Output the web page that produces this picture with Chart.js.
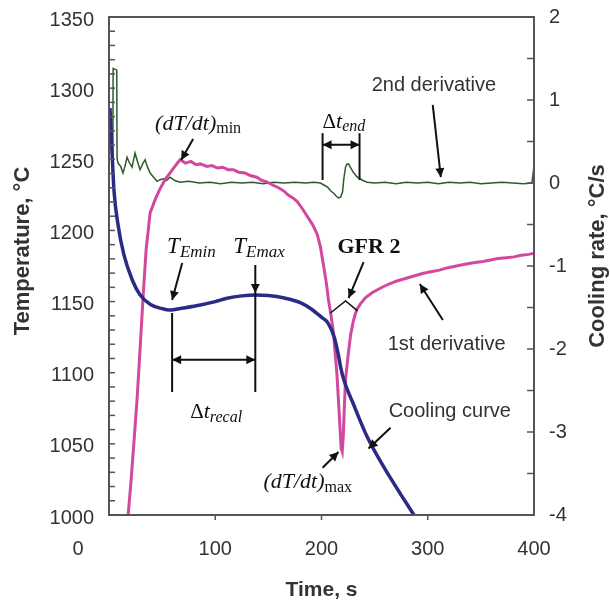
<!DOCTYPE html>
<html>
<head>
<meta charset="utf-8">
<script src="https://cdn.jsdelivr.net/npm/chart.js@4.4.1/dist/chart.umd.min.js"></script>
<style>
  body { margin: 0; background: #fff; }
  canvas { display: block; }
</style>
</head>
<body>
<canvas id="myChart" width="610" height="605"></canvas>
<script>
// cooling curve, left axis (s, degC)
const coolTime = [0.9, 2.8, 4.7, 8.5, 14, 22, 29, 39, 50, 57, 70, 86, 100, 111, 125, 138, 150, 165, 180, 190, 200, 206, 212, 216, 218, 221, 230, 243, 260, 275, 287, 292];
const coolTemp = [1286, 1256, 1228, 1204, 1183, 1165, 1155, 1148, 1145, 1144, 1145.5, 1147.6, 1150, 1152.3, 1154, 1154.6, 1154.2, 1152.5, 1149.3, 1145, 1139, 1135, 1125, 1112, 1104, 1095, 1078, 1055, 1032, 1014, 1000, 994];

// 1st derivative, right axis (degC/s)
const rate1Time = [17, 17.9, 20.8, 23.6, 26.4, 29.2, 32.1, 34.9, 38.7, 43.4, 48, 52.8, 58, 62, 65, 67, 72, 77, 82, 86, 92, 97, 102, 107, 112, 117, 122, 128, 133, 139, 144, 149, 155, 160, 165, 168, 173, 177, 182, 187, 192, 196, 199, 202, 204.5, 206.6, 209, 211.3, 214.5, 217, 218.5, 219.5, 220.5, 221.5, 222.6, 225, 227.4, 230, 233, 237, 241.5, 248, 255.7, 263, 271, 279, 287, 295, 303, 311, 319, 327, 335, 343, 350, 358, 366, 374, 381, 388, 395, 402];
const rate1Val = [-4.6, -4.02, -3.58, -3.1, -2.61, -2.01, -1.37, -0.81, -0.36, -0.2, -0.07, 0.04, 0.13, 0.2, 0.25, 0.28, 0.24, 0.26, 0.22, 0.23, 0.2, 0.21, 0.18, 0.19, 0.16, 0.16, 0.13, 0.12, 0.09, 0.07, 0.03, 0.01, -0.03, -0.06, -0.1, -0.14, -0.18, -0.22, -0.31, -0.41, -0.51, -0.62, -0.77, -1.0, -1.2, -1.41, -1.6, -1.81, -2.3, -2.85, -3.2, -3.24, -3.05, -2.7, -2.37, -2.08, -1.83, -1.66, -1.53, -1.45, -1.38, -1.32, -1.265, -1.22, -1.18, -1.15, -1.12, -1.09, -1.07, -1.05, -1.02, -1.0, -0.98, -0.96, -0.95, -0.93, -0.91, -0.9, -0.89, -0.87, -0.86, -0.84];

// 2nd derivative, right axis
const rate2Time = [3.6, 3.9, 7.3, 7.6, 8.5, 11, 13.2, 15, 17, 19, 21.7, 23, 24.5, 27, 29.2, 32, 34, 36, 38.7, 42, 45.3, 48, 51, 54, 57.5, 62, 67, 75, 85, 95, 105, 115, 125, 135, 145, 155, 165, 175, 185, 193, 199, 203, 205.7, 209, 211.3, 214, 216, 218, 219.8, 221, 222.6, 224, 225.5, 228, 230, 233, 235, 239, 243, 250, 260, 270, 280, 290, 300, 310, 320, 330, 340, 350, 360, 370, 380, 390, 398, 399.5, 400.5];
const rate2Val = [0.35, 1.38, 1.36, 0.3, 0.24, 0.2, 0.12, 0.2, 0.31, 0.25, 0.19, 0.27, 0.36, 0.25, 0.16, 0.24, 0.28, 0.2, 0.12, 0.07, 0.02, 0.04, 0.05, 0.03, 0.07, 0.03, 0.01, 0.02, 0.0, 0.01, -0.01, 0.01, 0.0, 0.01, -0.01, 0.01, 0.0, 0.01, 0.0, 0.01, 0.0, -0.03, -0.05, -0.1, -0.12, -0.16, -0.18, -0.17, -0.11, 0.05, 0.19, 0.23, 0.23, 0.17, 0.13, 0.08, 0.06, 0.03, 0.01, 0.0, 0.01, -0.01, 0.01, 0.0, 0.01, -0.01, 0.01, 0.0, 0.01, -0.01, 0.0, 0.01, 0.0, -0.01, 0.0, 0.15, 0.3];

const timeTicks = [0, 100, 200, 300, 400];
const tempTicks = [1000, 1050, 1100, 1150, 1200, 1250, 1300, 1350];
const rateTicks = [-4, -3, -2, -1, 0, 1, 2];

function pairs(xs, ys) {
  return xs.map((v, i) => ({ x: v, y: ys[i] }));
}

const SANS = '"Liberation Sans", Arial, sans-serif';
const SERIF = '"Liberation Serif", "Times New Roman", serif';

function richText(ctx, x, y, parts) {
  ctx.textAlign = 'left';
  ctx.textBaseline = 'middle';
  parts.forEach(p => {
    ctx.font = p.f;
    ctx.fillText(p.t, x, y + (p.dy || 0));
    x += ctx.measureText(p.t).width;
  });
}

function arrowHead(ctx, x1, y1, x2, y2) {
  const a = Math.atan2(y2 - y1, x2 - x1);
  const len = 9, w = 4.5;
  ctx.beginPath();
  ctx.moveTo(x2, y2);
  ctx.lineTo(x2 - len * Math.cos(a) + w * Math.sin(a), y2 - len * Math.sin(a) - w * Math.cos(a));
  ctx.lineTo(x2 - len * Math.cos(a) - w * Math.sin(a), y2 - len * Math.sin(a) + w * Math.cos(a));
  ctx.closePath();
  ctx.fill();
}

function arrow(ctx, x1, y1, x2, y2, both) {
  ctx.beginPath();
  ctx.moveTo(x1, y1);
  ctx.lineTo(x2, y2);
  ctx.stroke();
  arrowHead(ctx, x1, y1, x2, y2);
  if (both) arrowHead(ctx, x2, y2, x1, y1);
}

function line(ctx, pts) {
  ctx.beginPath();
  ctx.moveTo(pts[0][0], pts[0][1]);
  for (let i = 1; i < pts.length; i++) ctx.lineTo(pts[i][0], pts[i][1]);
  ctx.stroke();
}

const notes = {
  id: 'notes',
  afterDraw(chart) {
    const { ctx, chartArea: a, scales } = chart;
    const px = t => scales.x.getPixelForValue(t);
    const py = v => scales.y2.getPixelForValue(v);
    const pT = v => scales.y.getPixelForValue(v);

    ctx.save();
    // frame and inner ticks
    ctx.strokeStyle = '#555';
    ctx.lineWidth = 2;
    ctx.strokeRect(a.left, a.top, a.right - a.left, a.bottom - a.top);
    ctx.lineWidth = 1.5;
    for (let v = 1000; v <= 1350; v += 10) line(ctx, [[a.left, pT(v)], [a.left + 6, pT(v)]]);
    for (let v = -4; v <= 2; v += 0.5) line(ctx, [[a.right - 7, py(v)], [a.right, py(v)]]);
    for (let t = 100; t < 400; t += 100) line(ctx, [[px(t), a.bottom], [px(t), a.bottom + 5]]);

    // "0" of the time axis sits left of the corner
    ctx.fillStyle = '#333';
    ctx.font = '20px ' + SANS;
    ctx.textAlign = 'center';
    ctx.textBaseline = 'middle';
    ctx.fillText('0', px(0) - 31, 549);

    // axis titles
    ctx.font = 'bold 21px ' + SANS;
    ctx.fillText('Time, s', (a.left + a.right) / 2, 590);
    ctx.save();
    ctx.translate(23, 251);
    ctx.rotate(-Math.PI / 2);
    ctx.font = 'bold 22px ' + SANS;
    ctx.fillText('Temperature, \u00B0C', 0, 0);
    ctx.restore();
    ctx.save();
    ctx.translate(598, 256);
    ctx.rotate(-Math.PI / 2);
    ctx.font = 'bold 22px ' + SANS;
    ctx.fillText('Cooling rate, \u00B0C/s', 0, 0);
    ctx.restore();

    // annotations
    ctx.strokeStyle = '#111';
    ctx.fillStyle = '#111';
    ctx.lineWidth = 2;

    richText(ctx, px(43.4), py(0.71), [
      { t: '(dT/dt)', f: 'italic 22px ' + SERIF },
      { t: 'min', f: '16px ' + SERIF, dy: 5 }
    ]);
    arrow(ctx, px(79.2), py(0.53), px(67.9), py(0.277));

    richText(ctx, px(145.3), py(-3.61), [
      { t: '(dT/dt)', f: 'italic 22px ' + SERIF },
      { t: 'max', f: '16px ' + SERIF, dy: 5 }
    ]);
    arrow(ctx, px(201), py(-3.43), px(216), py(-3.24));

    richText(ctx, px(201), py(0.735), [
      { t: '\u0394', f: '21px ' + SERIF },
      { t: 't', f: 'italic 22px ' + SERIF },
      { t: 'end', f: 'italic 16px ' + SERIF, dy: 5 }
    ]);
    line(ctx, [[px(201), py(0.6)], [px(201), py(0.036)]]);
    line(ctx, [[px(235.8), py(0.6)], [px(235.8), py(0.036)]]);
    arrow(ctx, px(201), py(0.46), px(235.8), py(0.46), true);

    richText(ctx, px(54.7), py(-0.77), [
      { t: 'T', f: 'italic 23px ' + SERIF },
      { t: 'Emin', f: 'italic 17px ' + SERIF, dy: 6 }
    ]);
    arrow(ctx, px(68.9), py(-0.964), px(59.4), py(-1.41));
    richText(ctx, px(117), py(-0.77), [
      { t: 'T', f: 'italic 23px ' + SERIF },
      { t: 'Emax', f: 'italic 17px ' + SERIF, dy: 6 }
    ]);
    arrow(ctx, px(137.7), py(-0.988), px(137.7), py(-1.325));
    line(ctx, [[px(137.7), py(-1.325)], [px(137.7), py(-2.518)]]);
    line(ctx, [[px(59.4), py(-1.566)], [px(59.4), py(-2.518)]]);
    arrow(ctx, px(59.4), py(-2.13), px(137.7), py(-2.13), true);
    richText(ctx, px(76.4), py(-2.76), [
      { t: '\u0394', f: '21px ' + SERIF },
      { t: 't', f: 'italic 22px ' + SERIF },
      { t: 'recal', f: 'italic 16px ' + SERIF, dy: 6 }
    ]);

    richText(ctx, px(215), py(-0.77), [{ t: 'GFR 2', f: 'bold 22px ' + SERIF }]);
    arrow(ctx, px(239.6), py(-0.952), px(225.5), py(-1.386));
    ctx.lineWidth = 1.5;
    line(ctx, [[px(208.5), py(-1.566)], [px(222.6), py(-1.42)], [px(234), py(-1.54)]]);
    ctx.lineWidth = 2;

    ctx.fillStyle = '#333';
    richText(ctx, px(247.2), py(1.18), [{ t: '2nd derivative', f: '20px ' + SANS }]);
    richText(ctx, px(262.3), py(-1.95), [{ t: '1st derivative', f: '20px ' + SANS }]);
    richText(ctx, px(263.2), py(-2.75), [{ t: 'Cooling curve', f: '20px ' + SANS }]);
    ctx.fillStyle = '#111';
    arrow(ctx, px(304.7), py(0.94), px(312.3), py(0.07));
    arrow(ctx, px(314.2), py(-1.65), px(292.5), py(-1.217));
    arrow(ctx, px(265), py(-2.95), px(244.3), py(-3.2));
    ctx.restore();
  }
};

const ctx = document.getElementById('myChart');
const myChart = new Chart(ctx, {
  type: 'line',
  data: {
    datasets: [
      {
        label: 'Cooling curve',
        data: pairs(coolTime, coolTemp),
        yAxisID: 'y',
        borderColor: '#2b2a85',
        borderWidth: 3.5,
        cubicInterpolationMode: 'monotone',
        order: 0
      },
      {
        label: '1st derivative',
        data: pairs(rate1Time, rate1Val),
        yAxisID: 'y2',
        borderColor: '#d2489f',
        borderWidth: 3,
        tension: 0,
        order: 1
      },
      {
        label: '2nd derivative',
        data: pairs(rate2Time, rate2Val),
        yAxisID: 'y2',
        borderColor: '#2e5b2b',
        borderWidth: 1.5,
        tension: 0,
        order: 2
      }
    ]
  },
  options: {
    responsive: false,
    animation: false,
    layout: { padding: { top: 17, left: 0, right: 0, bottom: 0 } },
    elements: { point: { radius: 0 } },
    plugins: { legend: { display: false }, tooltip: { enabled: false } },
    scales: {
      x: {
        type: 'linear',
        min: 0,
        max: 400,
        afterBuildTicks: s => { s.ticks = timeTicks.map(v => ({ value: v })); },
        afterFit: s => { s.height = 90; s.paddingLeft = 0; s.paddingRight = 0; },
        grid: { display: false, drawTicks: false },
        border: { display: false },
        ticks: {
          padding: 22,
          color: '#333',
          font: { family: SANS, size: 20 },
          maxRotation: 0,
          callback: v => (v === 0 ? '' : String(v))
        }
      },
      y: {
        position: 'left',
        min: 1000,
        max: 1350,
        afterBuildTicks: s => { s.ticks = tempTicks.map(v => ({ value: v })); },
        afterFit: s => { s.width = 109; s.paddingTop = 0; s.paddingBottom = 0; },
        grid: { display: false, drawTicks: false },
        border: { display: false },
        ticks: { padding: 15, labelOffset: 3, color: '#333', font: { family: SANS, size: 20 }, callback: v => String(v) }
      },
      y2: {
        position: 'right',
        min: -4,
        max: 2,
        afterBuildTicks: s => { s.ticks = rateTicks.map(v => ({ value: v })); },
        afterFit: s => { s.width = 76; s.paddingTop = 0; s.paddingBottom = 0; },
        grid: { display: false, drawTicks: false },
        border: { display: false },
        ticks: { padding: 15, color: '#333', font: { family: SANS, size: 20 }, callback: v => String(v) }
      }
    }
  },
  plugins: [notes]
});
</script>
</body>
</html>
